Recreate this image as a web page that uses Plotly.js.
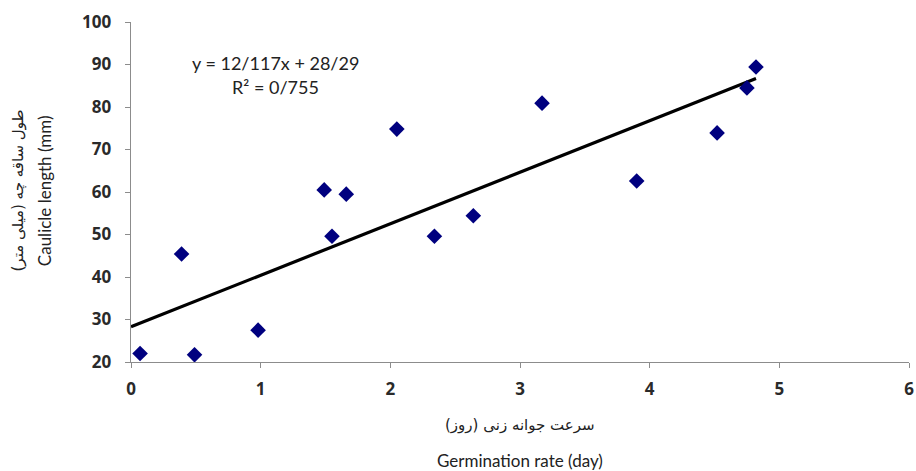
<!DOCTYPE html>
<html><head><meta charset="utf-8">
<script src="https://cdn.plot.ly/plotly-3.0.1.min.js"></script>
<style>html,body{margin:0;padding:0;background:#fff}#chart{width:916px;height:471px}</style>
</head><body><div id="chart"></div>
<script>
const germRate = [0.07, 0.39, 0.49, 0.98, 1.49, 1.55, 1.66, 2.05, 2.34, 2.64, 3.17, 3.90, 4.52, 4.75, 4.82];
const caulicle = [22.0, 45.4, 21.7, 27.5, 60.5, 49.6, 59.5, 74.8, 49.6, 54.4, 80.9, 62.6, 73.9, 84.5, 89.4];
const trendX = [0, 4.82];
const trendY = [28.29, 86.7];
const xTicks = [0, 1, 2, 3, 4, 5, 6];
const yTicks = [20, 30, 40, 50, 60, 70, 80, 90, 100];

const data = [
  {x: trendX, y: trendY, type: 'scatter', mode: 'lines', line: {color: '#000', width: 3.2}, hoverinfo: 'skip'},
  {x: germRate, y: caulicle, type: 'scatter', mode: 'markers',
   marker: {symbol: 'diamond', size: 12, color: '#00007f'}}
];
const tickFont = {family: '"Noto Sans", "Open Sans", sans-serif', size: 17, color: '#2a2a2a', weight: 700};
const layout = {
  width: 916, height: 471,
  margin: {l: 131, r: 7, t: 22, b: 109},
  paper_bgcolor: '#fff', plot_bgcolor: '#fff',
  showlegend: false,
  xaxis: {range: [0, 6], tickvals: xTicks, ticktext: xTicks.map(String), showgrid: false, zeroline: false,
    showline: true, linecolor: '#8c8c8c', linewidth: 1.3, ticks: 'outside', ticklen: 5, tickcolor: '#8c8c8c',
    tickfont: tickFont, ticklabelstandoff: 6},
  yaxis: {range: [20, 100], tickvals: yTicks, ticktext: yTicks.map(String), showgrid: false, zeroline: false,
    showline: true, linecolor: '#8c8c8c', linewidth: 1.3, ticks: 'outside', ticklen: 5, tickcolor: '#8c8c8c',
    tickfont: tickFont, ticklabelstandoff: 10},
  annotations: [
    {xref: 'paper', yref: 'paper', x: 0.186, y: 0.879, xanchor: 'center', yanchor: 'middle', text: 'y = 12/117x + 28/29', showarrow: false,
     font: {family: 'Lato, sans-serif', size: 18, color: '#222'}},
    {xref: 'paper', yref: 'paper', x: 0.186, y: 0.81, xanchor: 'center', yanchor: 'middle', text: 'R² = 0/755', showarrow: false,
     font: {family: 'Lato, sans-serif', size: 18, color: '#222'}},
    {xref: 'paper', yref: 'paper', x: 0.5, y: -0.185, xanchor: 'center', yanchor: 'middle', text: 'سرعت جوانه زنی (روز)', showarrow: false,
     font: {family: '"DejaVu Sans", sans-serif', size: 15, color: '#222'}},
    {xref: 'paper', yref: 'paper', x: 0.5, y: -0.291, xanchor: 'center', yanchor: 'middle', text: 'Germination rate (day)', showarrow: false,
     font: {family: 'Lato, sans-serif', size: 17, color: '#222'}},
    {xref: 'paper', yref: 'paper', x: -0.145, y: 0.505, xanchor: 'center', yanchor: 'middle', text: 'طول ساقه چه (میلی متر)', showarrow: false, textangle: -90,
     font: {family: '"DejaVu Sans", sans-serif', size: 15, color: '#222'}},
    {xref: 'paper', yref: 'paper', x: -0.112, y: 0.505, xanchor: 'center', yanchor: 'middle', text: 'Caulicle length (mm)', showarrow: false, textangle: -90,
     font: {family: 'Lato, sans-serif', size: 17, color: '#222'}}
  ]
};
Plotly.newPlot('chart', data, layout, {displayModeBar: false, staticPlot: true});
</script></body></html>
